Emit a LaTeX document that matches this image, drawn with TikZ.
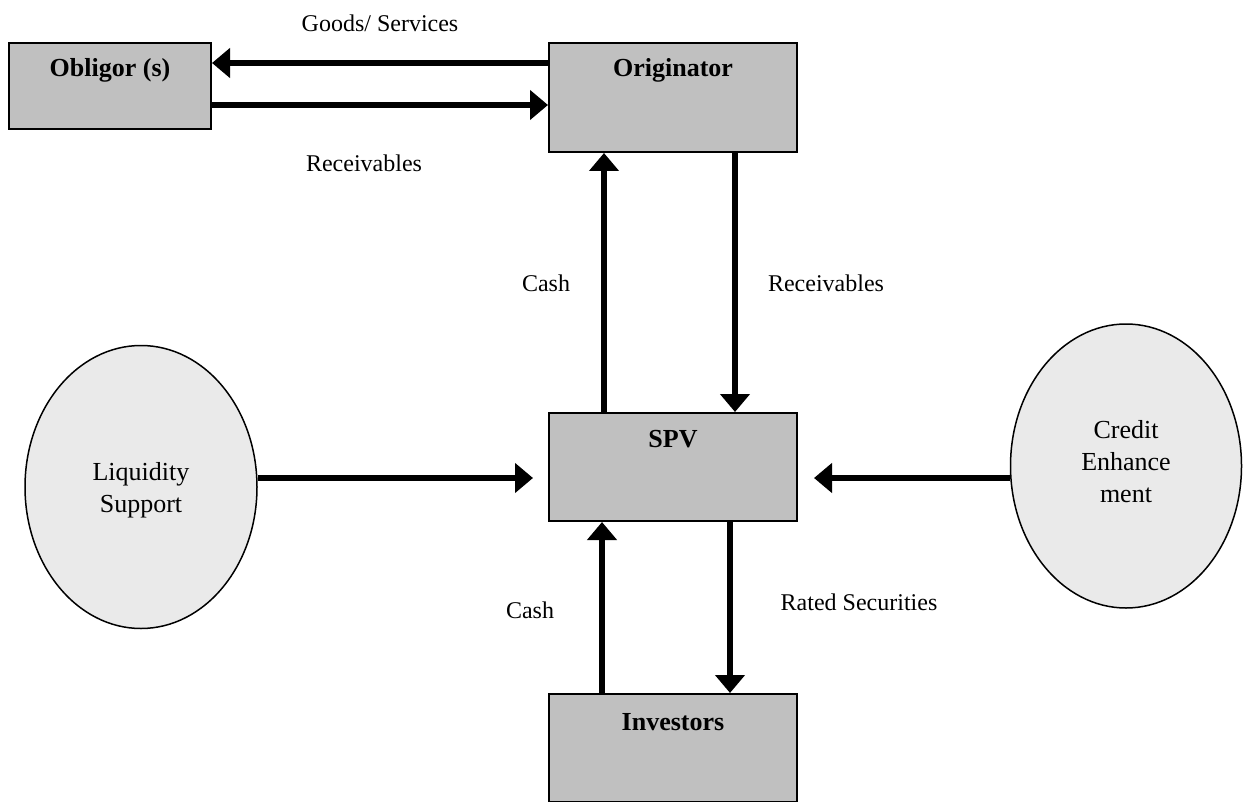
\documentclass[tikz,border=0pt]{standalone}
\usepackage{fontspec}
\setmainfont{Liberation Serif}
\usetikzlibrary{arrows.meta,shapes.geometric}
\definecolor{boxgray}{HTML}{C0C0C0}
\definecolor{ellgray}{HTML}{EAEAEA}
\tikzset{
  box/.style={draw=black, line width=2pt, fill=boxgray, rectangle, inner sep=0pt, anchor=north west},
  ell/.style={draw=black, line width=1.5pt, fill=ellgray, ellipse, inner sep=0pt},
  btxt/.style={font=\fontsize{26}{30}\selectfont\bfseries, inner sep=0pt},
  etxt/.style={font=\fontsize{26}{32}\selectfont, inner sep=0pt, align=center},
  txt/.style={font=\fontsize{24}{28}\selectfont, inner sep=0pt, align=center},
  arr/.style={line width=5.5pt, -{Triangle[length=18pt,width=29pt]}}
}
\begin{document}
\begin{tikzpicture}[x=1pt,y=-1pt]
\useasboundingbox (0,0) rectangle (1244,802);
% boxes
\node[box, minimum width=202pt, minimum height=86pt] (obl) at (8,42) {};
\node[box, minimum width=248pt, minimum height=109pt] (orig) at (548,42) {};
\node[box, minimum width=248pt, minimum height=108pt] (spv) at (548,412) {};
\node[box, minimum width=248pt, minimum height=108pt] (inv) at (548,693) {};
\node[btxt] (oblt) at ([yshift=-28pt]obl.north) {Obligor (s)};
\node[btxt] (origt) at ([yshift=-28pt]orig.north) {Originator};
\node[btxt] (spvt) at ([yshift=-27pt]spv.north) {SPV};
\node[btxt] (invt) at ([yshift=-29pt]inv.north) {Investors};
% ellipses
\node[ell, minimum width=232pt, minimum height=283pt] (liq) at (141,487) {};
\node[etxt] (liqt) at (141,490) {Liquidity\\Support};
\node[ell, minimum width=231pt, minimum height=284pt] (ce) at (1126,466) {};
\node[etxt] (cet) at (1126,462) {Credit\\Enhance\\ment};
% arrows
\draw[arr] (orig.west |- 0,63) -- (obl.east |- 0,63);
\draw[arr] (obl.east |- 0,105) -- (orig.west |- 0,105);
\draw[arr] (spv.north -| 604,0) -- (orig.south -| 604,0);
\draw[arr] (orig.south -| 735,0) -- (spv.north -| 735,0);
\coordinate (lqend) at ([xshift=-15pt]spv.west |- 0,478);
\coordinate (ceend) at ([xshift=16pt]spv.east |- 0,478);
\draw[arr] (liq.east |- 0,478) -- (lqend);
\draw[arr] (ce.west |- 0,478) -- (ceend);
\draw[arr] (inv.north -| 602,0) -- (spv.south -| 602,0);
\draw[arr] (spv.south -| 730,0) -- (inv.north -| 730,0);
% labels
\node[txt] (l1) at (380,23) {Goods/ Services};
\node[txt] (l2) at (364,163) {Receivables};
\node[txt] (l3) at (546,283) {Cash};
\node[txt] (l4) at (826,283) {Receivables};
\node[txt] (l5) at (530,610) {Cash};
\node[txt] (l6) at (859,602) {Rated Securities};
\end{tikzpicture}
\end{document}
